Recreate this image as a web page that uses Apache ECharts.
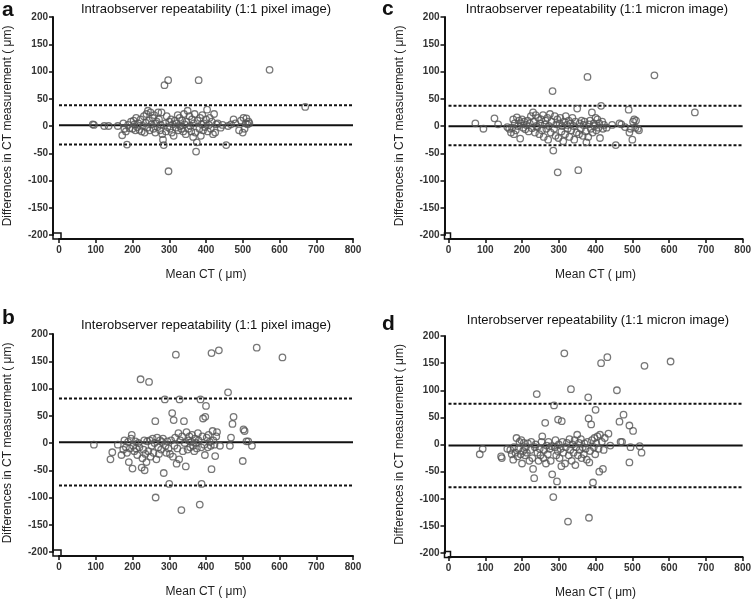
<!DOCTYPE html>
<html>
<head>
<meta charset="utf-8">
<script src="https://cdn.jsdelivr.net/npm/echarts@6/dist/echarts.min.js"></script>
<style>html,body{margin:0;padding:0;background:#fff}#c{width:754px;height:600px}</style>
</head>
<body>
<div id="c"></div>
<script>
// ---- Data ----
var panelLetters = ['a', 'c', 'b', 'd'];
var panelTitles = [
  'Intraobserver repeatability (1:1 pixel image)',
  'Intraobserver repeatability (1:1 micron image)',
  'Interobserver repeatability (1:1 pixel image)',
  'Interobserver repeatability (1:1 micron image)'
];
var xAxisName = 'Mean CT ( \u03bcm)';
var yAxisName = 'Differences in CT measurement ( \u03bcm)';
var xTicks = [0, 100, 200, 300, 400, 500, 600, 700, 800];
var yTicks = [-200, -150, -100, -50, 0, 50, 100, 150, 200];

// mean difference and limits of agreement [lower, mean, upper]
var limitsA = [-34, 1.5, 38];
var limitsC = [-35.5, -0.5, 37];
var limitsB = [-78, 1.2, 81.5];
var limitsD = [-79, -2, 75];

var pointsA = [[92,3],[95,2],[123,0],[135,0],[160,0],[172,-17],[175,5],[178,-5],[182,-10],[185,-34],[188,2],[192,-4],[196,8],[200,-5],[203,10],[205,3],[208,-8],[210,15],[213,-2],[216,5],[219,-7],[222,12],[225,-10],[228,0],[231,18],[233,-12],[236,6],[238,22],[240,-3],[242,28],[245,10],[247,-8],[249,25],[252,3],[255,15],[257,-5],[259,20],[262,-12],[264,5],[266,8],[268,-2],[270,25],[272,12],[275,-8],[277,2],[279,25],[281,-15],[283,-25],[285,-35],[287,75],[289,5],[291,-10],[293,18],[295,-2],[297,84],[298,-83],[300,8],[302,-5],[305,12],[307,-12],[310,3],[312,-18],[315,10],[318,-3],[320,5],[323,20],[325,-8],[328,15],[330,0],[333,-5],[335,10],[338,-10],[340,22],[342,3],[345,-15],[347,8],[350,28],[352,-5],[355,18],[357,0],[360,-10],[362,12],[365,-20],[367,5],[369,22],[371,-12],[373,-47],[375,-30],[377,10],[380,84],[382,-5],[384,15],[386,-18],[388,3],[390,20],[392,-8],[394,5],[397,-2],[400,12],[403,30],[405,-10],[408,2],[410,15],[413,-5],[416,8],[419,-15],[422,22],[425,-12],[428,3],[432,5],[440,-3],[445,2],[455,-35],[460,0],[468,3],[475,12],[480,5],[490,-8],[495,10],[500,-12],[502,15],[505,-5],[508,5],[510,14],[513,3],[516,8],[518,5],[573,103],[670,35]];

var pointsC = [[73,5],[95,-5],[125,14],[135,3],[160,-2],[165,-5],[170,-12],[173,-3],[176,12],[178,-15],[180,5],[183,-8],[186,16],[189,0],[192,10],[195,-23],[197,5],[200,12],[203,-3],[206,8],[209,-6],[212,2],[215,10],[218,-10],[221,5],[224,18],[227,-4],[230,25],[232,8],[235,-12],[237,20],[239,0],[242,-2],[244,15],[247,-15],[249,5],[252,12],[254,-8],[257,20],[259,-20],[262,3],[264,10],[266,-5],[269,15],[271,-25],[273,0],[276,22],[278,-12],[280,8],[283,64],[285,-45],[287,-5],[289,18],[291,-18],[293,3],[296,12],[297,-85],[299,-22],[302,5],[304,15],[307,-10],[309,0],[312,-28],[314,8],[317,-15],[319,18],[322,2],[324,-5],[327,10],[329,-20],[332,5],[334,-8],[337,15],[340,0],[342,-25],[345,8],[348,-12],[350,32],[353,-81],[355,-15],[357,5],[360,-5],[362,10],[365,-18],[367,2],[370,8],[373,-10],[375,-30],[378,90],[380,-20],[382,3],[385,10],[387,-5],[390,25],[392,-12],[395,5],[397,0],[400,15],[402,-8],[405,12],[408,-3],[410,5],[412,-22],[415,37],[418,8],[420,-5],[423,2],[430,-3],[445,2],[455,-35],[465,5],[470,3],[480,-2],[490,30],[492,-12],[495,-5],[500,-25],[502,8],[505,12],[508,-3],[510,10],[515,-5],[518,-8],[560,93],[670,25]];

var pointsB = [[95,-3],[140,-30],[145,-17],[160,-3],[170,-22],[175,-12],[178,5],[182,-8],[185,-18],[188,2],[190,-35],[193,-10],[196,8],[198,15],[200,-47],[202,-5],[205,-15],[208,3],[210,-10],[213,-22],[216,0],[219,-8],[222,117],[225,-45],[227,-28],[230,-12],[232,5],[233,-50],[235,-20],[238,-35],[240,3],[243,-15],[245,112],[247,5],[249,-25],[252,-5],[255,8],[257,-18],[260,0],[262,40],[263,-100],[265,-30],[267,10],[270,-8],[272,-20],[275,5],[278,-12],[280,2],[283,8],[285,-55],[288,80],[290,-5],[292,-18],[295,3],[298,-10],[300,-75],[302,-20],[305,5],[308,55],[310,-25],[312,42],[314,-5],[316,10],[318,162],[320,-38],[322,-10],[325,18],[327,-30],[328,80],[330,5],[333,-123],[335,12],[337,-15],[340,40],[342,0],[345,-43],[347,20],[350,-12],[352,5],[355,12],[357,-8],[360,2],[362,15],[365,-5],[368,-15],[370,8],[373,0],[375,-10],[378,18],[380,5],[383,-113],[385,80],[387,-8],[388,-75],[390,12],[392,45],[395,-3],[397,-22],[398,48],[400,68],[402,10],[405,-8],[407,15],[410,2],[413,-5],[415,-48],[415,165],[418,22],[420,5],[423,-3],[425,-24],[428,12],[430,20],[435,170],[438,-5],[460,93],[465,-5],[468,10],[472,35],[475,48],[500,-33],[502,25],[505,22],[510,3],[515,3],[525,-5],[538,175],[608,157]];

var pointsD = [[85,-18],[93,-8],[143,-22],[145,-25],[160,-8],[168,-10],[172,-18],[176,-28],[178,-5],[182,-15],[185,12],[188,-22],[190,-8],[193,5],[196,-18],[198,8],[200,-35],[203,-12],[205,3],[208,-20],[210,-5],[213,-15],[216,2],[220,-30],[223,-10],[225,5],[228,-25],[230,-45],[233,-62],[235,-5],[237,0],[240,93],[242,-15],[245,-30],[248,-8],[250,-20],[253,5],[255,15],[258,-25],[260,-10],[263,40],[265,-35],[267,-2],[270,-18],[272,5],[275,-8],[278,-30],[280,-3],[282,-55],[285,-97],[287,72],[289,-5],[291,8],[293,-20],[295,-68],[297,-12],[298,46],[300,0],[302,-25],[305,-8],[307,-40],[308,43],[310,5],[312,-15],[315,168],[317,-35],[319,-5],[322,3],[325,-142],[327,-20],[329,10],[331,-10],[333,102],[335,-30],[337,0],[340,-15],[343,8],[345,-38],[347,-5],[350,18],[352,-20],[355,3],[357,-10],[360,10],[362,-25],[365,-5],[368,-18],[370,2],[373,-8],[376,-28],[378,5],[380,87],[381,48],[382,-135],[383,-33],[385,-12],[388,37],[390,8],[393,-70],[395,-5],[397,12],[399,-18],[400,64],[402,2],[405,15],[408,-8],[410,-50],[412,18],[415,150],[417,5],[420,-45],[422,-10],[425,12],[432,161],[435,20],[440,-2],[458,100],[465,42],[468,5],[472,5],[476,55],[492,-33],[492,35],[495,-5],[502,25],[520,-3],[525,-15],[533,145],[604,153]];

var panelPoints = [pointsA, pointsC, pointsB, pointsD];
var panelLimits = [limitsA, limitsC, limitsB, limitsD];

// ---- Layout ----
var grids = [
  {left: 59, width: 294, top: 17, height: 218},
  {left: 448.5, width: 295, top: 17, height: 218},
  {left: 59, width: 294, top: 334, height: 218},
  {left: 448.5, width: 295, top: 336, height: 217.5}
];
var yOffsets = [6, 4, 6, 4];
var titlePos = [[206, 9], [597, 9], [206, 325], [598, 320]];
var letterPos = [[2, 10], [382, 9], [2, 318], [382, 324]];

var FONT = '"Liberation Sans", Arial, sans-serif';
var option = {
  backgroundColor: '#fff',
  animation: false,
  grid: [], xAxis: [], yAxis: [], series: [], graphic: []
};

for (var i = 0; i < 4; i++) {
  var g = grids[i];
  option.grid.push({left: g.left, width: g.width, top: g.top, height: g.height, containLabel: false});
  option.xAxis.push({
    type: 'value', gridIndex: i, min: xTicks[0], max: xTicks[xTicks.length - 1], interval: 100,
    offset: 4,
    name: xAxisName, nameLocation: 'middle', nameGap: 30,
    nameTextStyle: {fontFamily: FONT, fontSize: 12, color: '#222'},
    axisLine: {show: true, onZero: false, lineStyle: {color: '#111', width: 2}},
    axisTick: {show: true, length: 4, lineStyle: {color: '#111', width: 1.5}},
    axisLabel: {fontFamily: FONT, fontSize: 10, fontWeight: 'bold', color: '#333', margin: 6},
    splitLine: {show: false}
  });
  option.yAxis.push({
    type: 'value', gridIndex: i, min: yTicks[0], max: yTicks[yTicks.length - 1], interval: 50,
    offset: yOffsets[i],
    name: yAxisName, nameLocation: 'middle', nameGap: 39,
    nameTextStyle: {fontFamily: FONT, fontSize: 12, color: '#222'},
    axisLine: {show: true, onZero: false, lineStyle: {color: '#111', width: 2}},
    axisTick: {show: true, length: 4, lineStyle: {color: '#111', width: 1.5}},
    axisLabel: {fontFamily: FONT, fontSize: 10, fontWeight: 'bold', color: '#333', margin: 5},
    splitLine: {show: false}
  });
  option.series.push({
    type: 'scatter', xAxisIndex: i, yAxisIndex: i,
    data: panelPoints[i], symbol: 'circle', symbolSize: 6.5,
    itemStyle: {color: 'rgba(255,255,255,0)', borderColor: '#555', borderWidth: 1.3},
    z: 3
  });
  var lim = panelLimits[i];
  var x0 = xTicks[0], x1 = xTicks[xTicks.length - 1];
  option.series.push({
    type: 'line', xAxisIndex: i, yAxisIndex: i, symbol: 'none', silent: true,
    data: [[x0, lim[1]], [x1, lim[1]]],
    lineStyle: {color: '#111', width: 2}, z: 2
  });
  [lim[0], lim[2]].forEach(function (v) {
    option.series.push({
      type: 'line', xAxisIndex: i, yAxisIndex: i, symbol: 'none', silent: true,
      data: [[x0, v], [x1, v]],
      lineStyle: {color: '#111', width: 2, type: [3, 2]}, z: 2
    });
  });
  option.graphic.push({
    type: 'text', x: titlePos[i][0], y: titlePos[i][1],
    style: {text: panelTitles[i], fontFamily: FONT, fontSize: 13, fill: '#111', align: 'center', verticalAlign: 'middle'}
  });
  option.graphic.push({
    type: 'text', x: letterPos[i][0], y: letterPos[i][1],
    style: {text: panelLetters[i], fontFamily: FONT, fontSize: 21, fontWeight: 'bold', fill: '#111', align: 'left', verticalAlign: 'middle'}
  });
  // small box where the offset axes meet
  option.graphic.push({
    type: 'rect', silent: true,
    shape: {x: g.left - yOffsets[i], y: g.top + g.height - 2, width: yOffsets[i] + 2, height: 6},
    style: {fill: 'none', stroke: '#111', lineWidth: 1.5}
  });
}

var chart = echarts.init(document.getElementById('c'), null, {renderer: 'canvas'});
chart.setOption(option);
</script>
</body>
</html>
